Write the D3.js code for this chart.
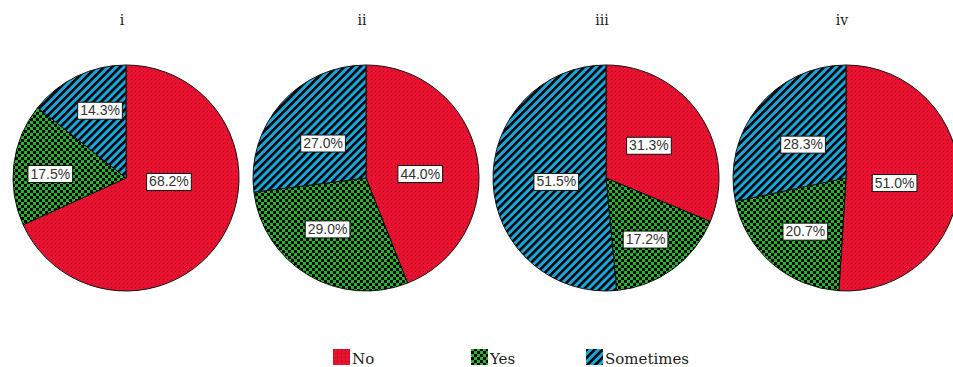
<!DOCTYPE html>
<html><head><meta charset="utf-8">
<script src="https://cdn.jsdelivr.net/npm/d3@7"></script>
<style>body{margin:0;background:#fff}svg{display:block}</style>
</head><body><svg id="chart" width="953" height="367"></svg>
<script>
// Survey answers per group (percent of respondents)
const panels = ["i", "ii", "iii", "iv"];
const categories = ["No", "Yes", "Sometimes"];
const noValues = [68.2, 44.0, 31.3, 51.0];
const yesValues = [17.5, 29.0, 17.2, 20.7];
const sometimesValues = [14.3, 27.0, 51.5, 28.3];

// Where each percentage box sits, as [dx, dy] in units of the pie radius
const labelNudge = [
  [[0.38, 0.03], [-0.67, -0.04], [-0.23, -0.60]],
  [[0.48, -0.04], [-0.34, 0.45], [-0.38, -0.31]],
  [[0.38, -0.29], [0.35, 0.54], [-0.44, 0.03]],
  [[0.43, 0.04], [-0.36, 0.47], [-0.38, -0.30]]
];

const W = 953, H = 367, R = 113, CY = 178;
const svg = d3.select("#chart");
const defs = svg.append("defs");

// Fill patterns
const pNo = defs.append("pattern").attr("id", "pat-no")
  .attr("patternUnits", "userSpaceOnUse").attr("width", 4).attr("height", 4);
pNo.append("rect").attr("width", 4).attr("height", 4).attr("fill", "#e8112f");
pNo.append("rect").attr("x", 1).attr("y", 1).attr("width", 1).attr("height", 1).attr("fill", "#9a0c20");

const pYes = defs.append("pattern").attr("id", "pat-yes")
  .attr("patternUnits", "userSpaceOnUse").attr("width", 6).attr("height", 6);
pYes.append("rect").attr("width", 6).attr("height", 6).attr("fill", "#22b52a");
pYes.append("rect").attr("width", 3).attr("height", 3).attr("fill", "#000");
pYes.append("rect").attr("x", 3).attr("y", 3).attr("width", 3).attr("height", 3).attr("fill", "#000");

const pSome = defs.append("pattern").attr("id", "pat-some")
  .attr("patternUnits", "userSpaceOnUse").attr("width", 5.6).attr("height", 5.6)
  .attr("patternTransform", "rotate(45)");
pSome.append("rect").attr("width", 5.6).attr("height", 5.6).attr("fill", "#1ba8dc");
pSome.append("rect").attr("width", 2.6).attr("height", 5.6).attr("fill", "#000");

const color = d3.scaleOrdinal().domain(categories)
  .range(["url(#pat-no)", "url(#pat-yes)", "url(#pat-some)"]);

const xPie = d3.scalePoint().domain(panels).range([126, 846]);

const pie = d3.pie().sort(null).value(d => d.value);
const arc = d3.arc().innerRadius(0).outerRadius(R);

panels.forEach((p, i) => {
  const data = [
    { cat: "No", value: noValues[i] },
    { cat: "Yes", value: yesValues[i] },
    { cat: "Sometimes", value: sometimesValues[i] }
  ];
  const g = svg.append("g").attr("transform", `translate(${xPie(p)},${CY})`);

  g.selectAll("path.slice").data(pie(data)).join("path")
    .attr("class", "slice")
    .attr("d", arc)
    .attr("fill", d => color(d.data.cat))
    .attr("stroke", "#111")
    .attr("stroke-width", 1);

  // panel title
  svg.append("text")
    .attr("x", xPie(p) - 4).attr("y", 25)
    .attr("text-anchor", "middle")
    .attr("font-family", "DejaVu Serif, serif")
    .attr("font-size", 14)
    .attr("fill", "#222")
    .text(p);

  // percentage boxes
  pie(data).forEach((d, j) => {
    const [nx, ny] = labelNudge[i][j];
    const lg = g.append("g").attr("transform", `translate(${nx * R},${ny * R})`);
    const t = lg.append("text")
      .attr("text-anchor", "middle")
      .attr("dy", "0.36em")
      .attr("font-family", "Liberation Sans, Arial, sans-serif")
      .attr("font-size", 14)
      .attr("fill", "#333")
      .text(d3.format(".1f")(d.data.value) + "%");
    const b = t.node().getBBox();
    lg.insert("rect", "text")
      .attr("x", b.x - 2.5).attr("y", b.y)
      .attr("width", b.width + 5).attr("height", b.height + 1)
      .attr("fill", "#fff").attr("stroke", "#111").attr("stroke-width", 1);
  });
});

// legend
const legendX = d3.scaleOrdinal().domain(categories).range([333, 471, 586]);
const lg = svg.append("g");
categories.forEach(c => {
  const x = legendX(c);
  lg.append("rect").attr("x", x).attr("y", 349).attr("width", 17).attr("height", 16)
    .attr("fill", color(c));
  lg.append("text").attr("x", x + 19).attr("y", 364)
    .attr("font-family", "DejaVu Serif, serif")
    .attr("font-size", 15)
    .attr("fill", "#222")
    .text(c);
});
</script>
</body></html>
